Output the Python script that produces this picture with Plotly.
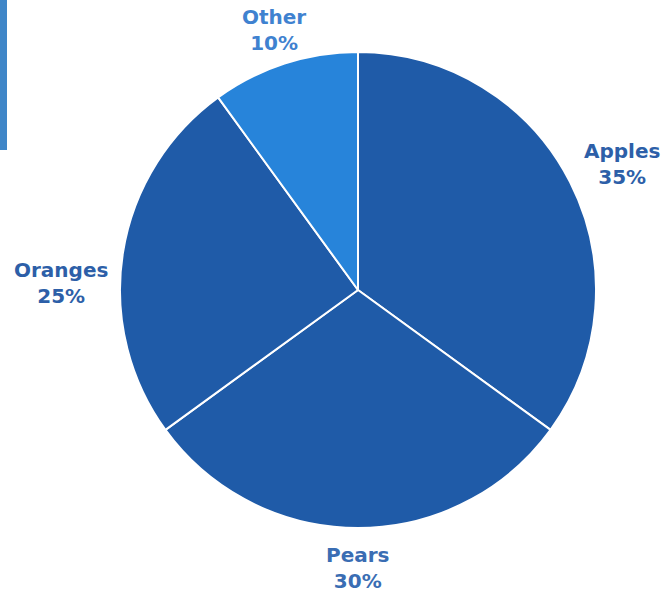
import math
import plotly.graph_objects as go

labels = ["Apples", "Pears", "Oranges", "Other"]
values = [35, 30, 25, 10]
slice_colors = ["#1f5ba8", "#1f5ba8", "#1f5ba8", "#2784da"]
label_colors = ["#2d5fa8", "#3a6db3", "#2d5fa8", "#3f82d0"]

W, H = 666, 595
cx, cy, r = 358, 290, 238
# label ellipse radii (pixels) and per-label nudges (layout only)
rx_lab, ry_lab = 296, 278
nudge = {"Oranges": (-5, 36), "Other": (7, 4)}

fig = go.Figure(go.Pie(
    labels=labels,
    values=values,
    sort=False,
    direction="clockwise",
    rotation=0,
    marker=dict(colors=slice_colors, line=dict(color="white", width=2)),
    textinfo="none",
    hoverinfo="label+percent",
    domain=dict(x=[(cx - r) / W, (cx + r) / W], y=[(H - cy - r) / H, (H - cy + r) / H]),
    showlegend=False,
))

total = sum(values)
cum = 0
for lab, v, col in zip(labels, values, label_colors):
    mid = (cum + v / 2) / total * 2 * math.pi
    cum += v
    dx, dy = nudge.get(lab, (0, 0))
    px = cx + rx_lab * math.sin(mid) + dx
    py = cy - ry_lab * math.cos(mid) + dy
    pct = round(100 * v / total)
    fig.add_annotation(
        x=px / W, y=1 - py / H, xref="paper", yref="paper",
        text=f"<b>{lab}</b><br><b>{pct}%</b>",
        showarrow=False, xanchor="center", yanchor="middle", align="center",
        font=dict(family="DejaVu Sans", size=20, color=col),
    )

fig.add_shape(type="rect", xref="paper", yref="paper",
              x0=0, x1=7 / W, y0=(H - 150) / H, y1=1,
              fillcolor="#3f86c8", line=dict(width=0), layer="below")

fig.update_layout(
    width=W, height=H,
    margin=dict(l=0, r=0, t=0, b=0),
    paper_bgcolor="white",
    plot_bgcolor="white",
)

fig.write_html("out.html", config={"displayModeBar": False},
               post_script="document.body.style.margin='0';")
